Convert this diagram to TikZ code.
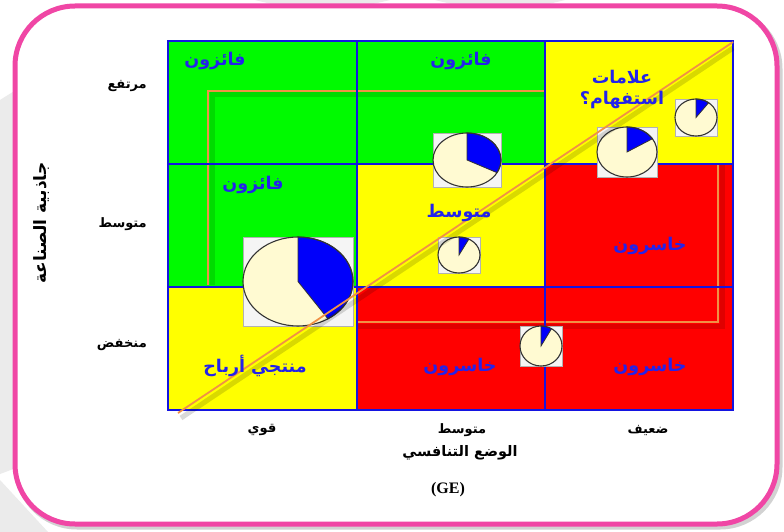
\documentclass[tikz,border=0pt]{standalone}
\usepackage{fontspec}
\newfontfamily\arfont[Script=Arabic]{DejaVu Sans}
\newfontfamily\gefont{Liberation Serif}
\TeXXeTstate=1
\definecolor{cgreen}{RGB}{0,250,0}
\definecolor{cyellow}{RGB}{255,255,0}
\definecolor{cred}{RGB}{255,0,0}
\definecolor{gridblue}{RGB}{20,20,225}
\definecolor{tblue}{RGB}{35,35,235}
\definecolor{pinkframe}{RGB}{240,70,165}
\definecolor{orng}{RGB}{240,145,70}
\definecolor{cream}{RGB}{255,250,210}
\definecolor{pieblue}{RGB}{0,0,250}
\newcommand{\gepie}[5]{%
  \filldraw[fill=gray!8,draw=gray!60,line width=0.6pt] ({#1-#3},{#2-#4}) rectangle ({#1+#3},{#2+#4});
  \fill[cream] (#1,#2) ellipse [x radius=#3, y radius=#4];
  \filldraw[fill=pieblue,draw=black!80,line width=0.8pt] (#1,#2) -- ++(-90:#3 and #4) arc[start angle=-90, end angle=#5, x radius=#3, y radius=#4] -- cycle;
  \draw[black!80,line width=1.1pt] (#1,#2) ellipse [x radius=#3, y radius=#4];
}
\begin{document}
\begin{tikzpicture}[x=1pt,y=-1pt,
  celllbl/.style={font=\arfont\bfseries\fontsize{17.5}{20}\selectfont, text=tblue, inner sep=0pt, align=center},
  axislbl/.style={font=\arfont\bfseries\fontsize{13}{15}\selectfont, text=black, inner sep=0pt},
  gridline/.style={draw=gridblue, line width=1.6pt},
  orangeline/.style={draw=orng, line width=1.8pt},
  wm/.style={fill=gray!16}]
\useasboundingbox (0,0) rectangle (784,532);
\fill[white] (0,0) rectangle (784,532);
% watermark shapes behind the frame
\fill[wm] (0,100) -- (16,90) -- (16,468) -- (0,474) -- cycle;
\fill[wm] (0,480) -- (0,532) -- (48,532) -- cycle;
\fill[wm] (255,0) -- (390,0) -- (352,9) -- (292,9) -- cycle;
\fill[wm] (435,0) -- (565,0) -- (528,9) -- (472,9) -- cycle;
% frame
\draw[gray!35, line width=5pt, rounded corners=60pt] (17,9) rectangle (780,527);
\fill[white, rounded corners=60pt] (15,6) rectangle (777,524);
\draw[pinkframe, line width=5pt, rounded corners=60pt] (15,6) rectangle (777,524);
% cells
\fill[cgreen]  (168,41)  rectangle (357,164);
\fill[cgreen]  (357,41)  rectangle (545,164);
\fill[cyellow] (545,41)  rectangle (733,164);
\fill[cgreen]  (168,164) rectangle (357,287);
\fill[cyellow] (357,164) rectangle (545,287);
\fill[cred]    (545,164) rectangle (733,287);
\fill[cyellow] (168,287) rectangle (357,410);
\fill[cred]    (357,287) rectangle (545,410);
\fill[cred]    (545,287) rectangle (733,410);
% orange frame segments
\draw[black, opacity=0.12, line width=5pt] (545,95) -- (212,95) -- (212,285);
\draw[orangeline] (545,91) -- (208,91) -- (208,285);
\draw[black, opacity=0.12, line width=5pt] (722,164) -- (722,326) -- (357,326);
\draw[orangeline] (718,164) -- (718,322) -- (357,322);
% grid
\draw[gridline] (168,41) rectangle (733,410);
\draw[gridline] (357,41) -- (357,410);
\draw[gridline] (545,41) -- (545,410);
\draw[gridline] (168,164) -- (733,164);
\draw[gridline] (168,287) -- (733,287);
% pies
\gepie{298}{281.5}{55}{44.5}{57}
\gepie{467}{160}{34}{27}{28}
\gepie{459}{255}{21}{18}{-62}
\gepie{627}{152}{30}{25}{-32}
\gepie{696}{117.5}{21}{18.5}{-53}
\gepie{541}{346}{21}{20}{-60}
% diagonal
\draw[black, opacity=0.15, line width=5pt] (181,418) -- (733,48);
\draw[orangeline] (178,413) -- (733,42);
% cell labels
\node[celllbl] (w1) at (215,61) {\beginR فائزون\endR};
\node[celllbl] (w2) at (461,61) {\beginR فائزون\endR};
\node[celllbl] (w3) at (253,185) {\beginR فائزون\endR};
\node[celllbl] (q1) at (622,89) {\beginR علامات\endR\\[1pt]\beginR استفهام؟\endR};
\node[celllbl] (m1) at (459,213) {\beginR متوسط\endR};
\node[celllbl] (l1) at (650,246) {\beginR خاسرون\endR};
\node[celllbl] (p1) at (255,366) {\beginR منتجي أرباح\endR};
\node[celllbl] (l2) at (460,367) {\beginR خاسرون\endR};
\node[celllbl] (l3) at (650,367) {\beginR خاسرون\endR};
% axis labels
\node[axislbl, anchor=east] (yh) at (147,86) {\beginR مرتفع\endR};
\node[axislbl, anchor=east] (ym) at (147,224) {\beginR متوسط\endR};
\node[axislbl, anchor=east] (yl) at (147,345) {\beginR منخفض\endR};
\node[axislbl, rotate=90, font=\arfont\bfseries\fontsize{17}{19}\selectfont] (yt) at (42,223) {\beginR جاذبية الصناعة\endR};
\node[axislbl] (xs) at (262,430) {\beginR قوي\endR};
\node[axislbl] (xm) at (462,430) {\beginR متوسط\endR};
\node[axislbl] (xw) at (648,430) {\beginR ضعيف\endR};
\node[axislbl, font=\arfont\bfseries\fontsize{14.5}{16}\selectfont] (xt) at (460,453) {\beginR الوضع التنافسي\endR};
\node[font=\gefont\bfseries\fontsize{16}{18}\selectfont, inner sep=0pt] (ge) at (448,490) {(GE)};
\end{tikzpicture}
\end{document}
